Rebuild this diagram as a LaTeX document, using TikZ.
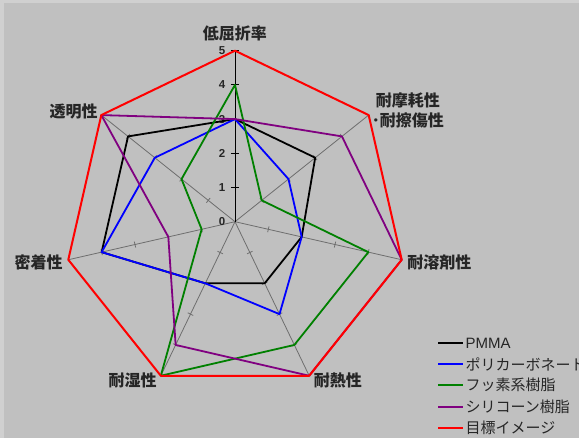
\documentclass[tikz,border=0pt]{standalone}
\usepackage{fontspec}
\setmainfont{Liberation Sans}
\newfontfamily\jpfont{Noto Sans CJK JP}
\usetikzlibrary{positioning}

\definecolor{chartbg}{HTML}{C0C0C0}
\definecolor{chartedge}{HTML}{D0D0D0}
\definecolor{axisgray}{HTML}{6E6E6E}
\definecolor{labelgray}{HTML}{262626}
\definecolor{fluorgreen}{HTML}{008000}
\definecolor{siliconepurple}{HTML}{800080}

\newcommand{\radarunit}{34.2pt}
% one closed line of the chart: name, colour, seven values
\newcommand{\radarline}[3]{%
  \foreach \v [count=\i from 0] in {#3}
    \coordinate (#1\i) at ({90-\i*360/7}:{\v*\radarunit});
  \draw[serie, draw=#2] (#10) -- (#11) -- (#12) -- (#13) -- (#14) -- (#15) -- (#16) -- cycle;}

\tikzset{
  axislabel/.style={inner sep=0pt, text=labelgray, font=\jpfont\bfseries\fontsize{16}{20}\selectfont},
  ticklabel/.style={inner sep=0pt, text=labelgray, font=\bfseries\fontsize{11.5}{13}\selectfont},
  legendtext/.style={inner sep=0pt, text=labelgray, font=\fontsize{15}{18}\selectfont},
  spoke/.style={axisgray, line width=0.8pt},
  mainspoke/.style={black, line width=0.8pt},
  serie/.style={line width=1.8pt, line join=round},
}

\begin{document}
\begin{tikzpicture}
% frame
    \coordinate (sw) at (-235pt,-216.3pt) ; %
    \coordinate (ne) at (344pt,221.7pt) ; %
    \fill[chartbg] (sw) rectangle (ne) ; %
    \useasboundingbox (sw) rectangle (ne) ; %
    \clip (sw) rectangle (ne) ; %
    \fill[chartedge] (-235pt,-216.3pt) rectangle (-231pt,221.7pt) ; %
    \fill[chartedge] (-235pt,218.7pt) rectangle (344pt,221.7pt) ; %
% spokes
    \coordinate (o) at (0pt,0pt) ; %
    \foreach \k in {0,...,6}
      \coordinate (a\k) at ({90-\k*360/7}:{5*\radarunit}) ; %
    \foreach \k in {1,...,6} {
      \draw[spoke] (o) -- (a\k) ; %
      \foreach \n in {1,...,4}
        \draw[spoke, rotate={90-\k*360/7}] ({\n*\radarunit},-3pt) -- ({\n*\radarunit},3pt) ; %
    }
    \draw[mainspoke] (o) -- (a0) ; %
    \foreach \n in {1,...,5}
      \draw[mainspoke] (-4pt,{\n*\radarunit}) -- (4pt,{\n*\radarunit}) ; %
    \foreach \n in {0,...,5}
      \node[ticklabel, anchor=east] (tick\n) at (-9.5pt,{\n*\radarunit}) {\n} ; %
% axis names
    \node[axislabel, above=9.5pt of a0] (l0) {低屈折率} ; %
    \node[axislabel, align=center, right=3pt of a1, yshift=4.4pt] (l1) {耐摩耗性\\･耐擦傷性} ; %
    \node[axislabel, right=5.5pt of a2, yshift=-2.6pt] (l2) {耐溶剤性} ; %
    \node[axislabel, right=4.5pt of a3, yshift=-4.3pt] (l3) {耐熱性} ; %
    \node[axislabel, left=4pt of a4, yshift=-4.3pt] (l4) {耐湿性} ; %
    \node[axislabel, left=5.5pt of a5, yshift=-2.6pt] (l5) {密着性} ; %
    \node[axislabel, left=3.5pt of a6, yshift=3.4pt] (l6) {透明性} ; %
% data
    \radarline{pm}{black}{3,3,2,2,2,4,4} %
    \radarline{pcb}{blue}{3,2,2,3,2,4,3} %
    \radarline{fl}{fluorgreen}{4,1,4,4,5,1,2} %
    \radarline{si}{siliconepurple}{3,4,5,5,4,2,5} %
    \draw[serie, draw=red, line width=2pt] (a0) -- (a1) -- (a2) -- (a3) -- (a4) -- (a5) -- (a6) -- cycle ; %
% legend
    \foreach \col/\txt/\y [count=\k from 0] in {black/PMMA/-121.3, blue/{\jpfont ポリカーボネート}/-142.3, fluorgreen/{\jpfont フッ素系樹脂}/-163.3, siliconepurple/{\jpfont シリコーン樹脂}/-185.3, red/{\jpfont 目標イメージ}/-206.3} {
      \coordinate (leg\k a) at (203pt,\y pt) ; %
      \coordinate (leg\k b) at (228pt,\y pt) ; %
      \draw[serie, draw=\col, line width=2pt] (leg\k a) -- (leg\k b) ; %
      \node[legendtext, right=2.5pt of leg\k b] (legtxt\k) {\txt} ; %
    }
\end{tikzpicture}
\end{document}
